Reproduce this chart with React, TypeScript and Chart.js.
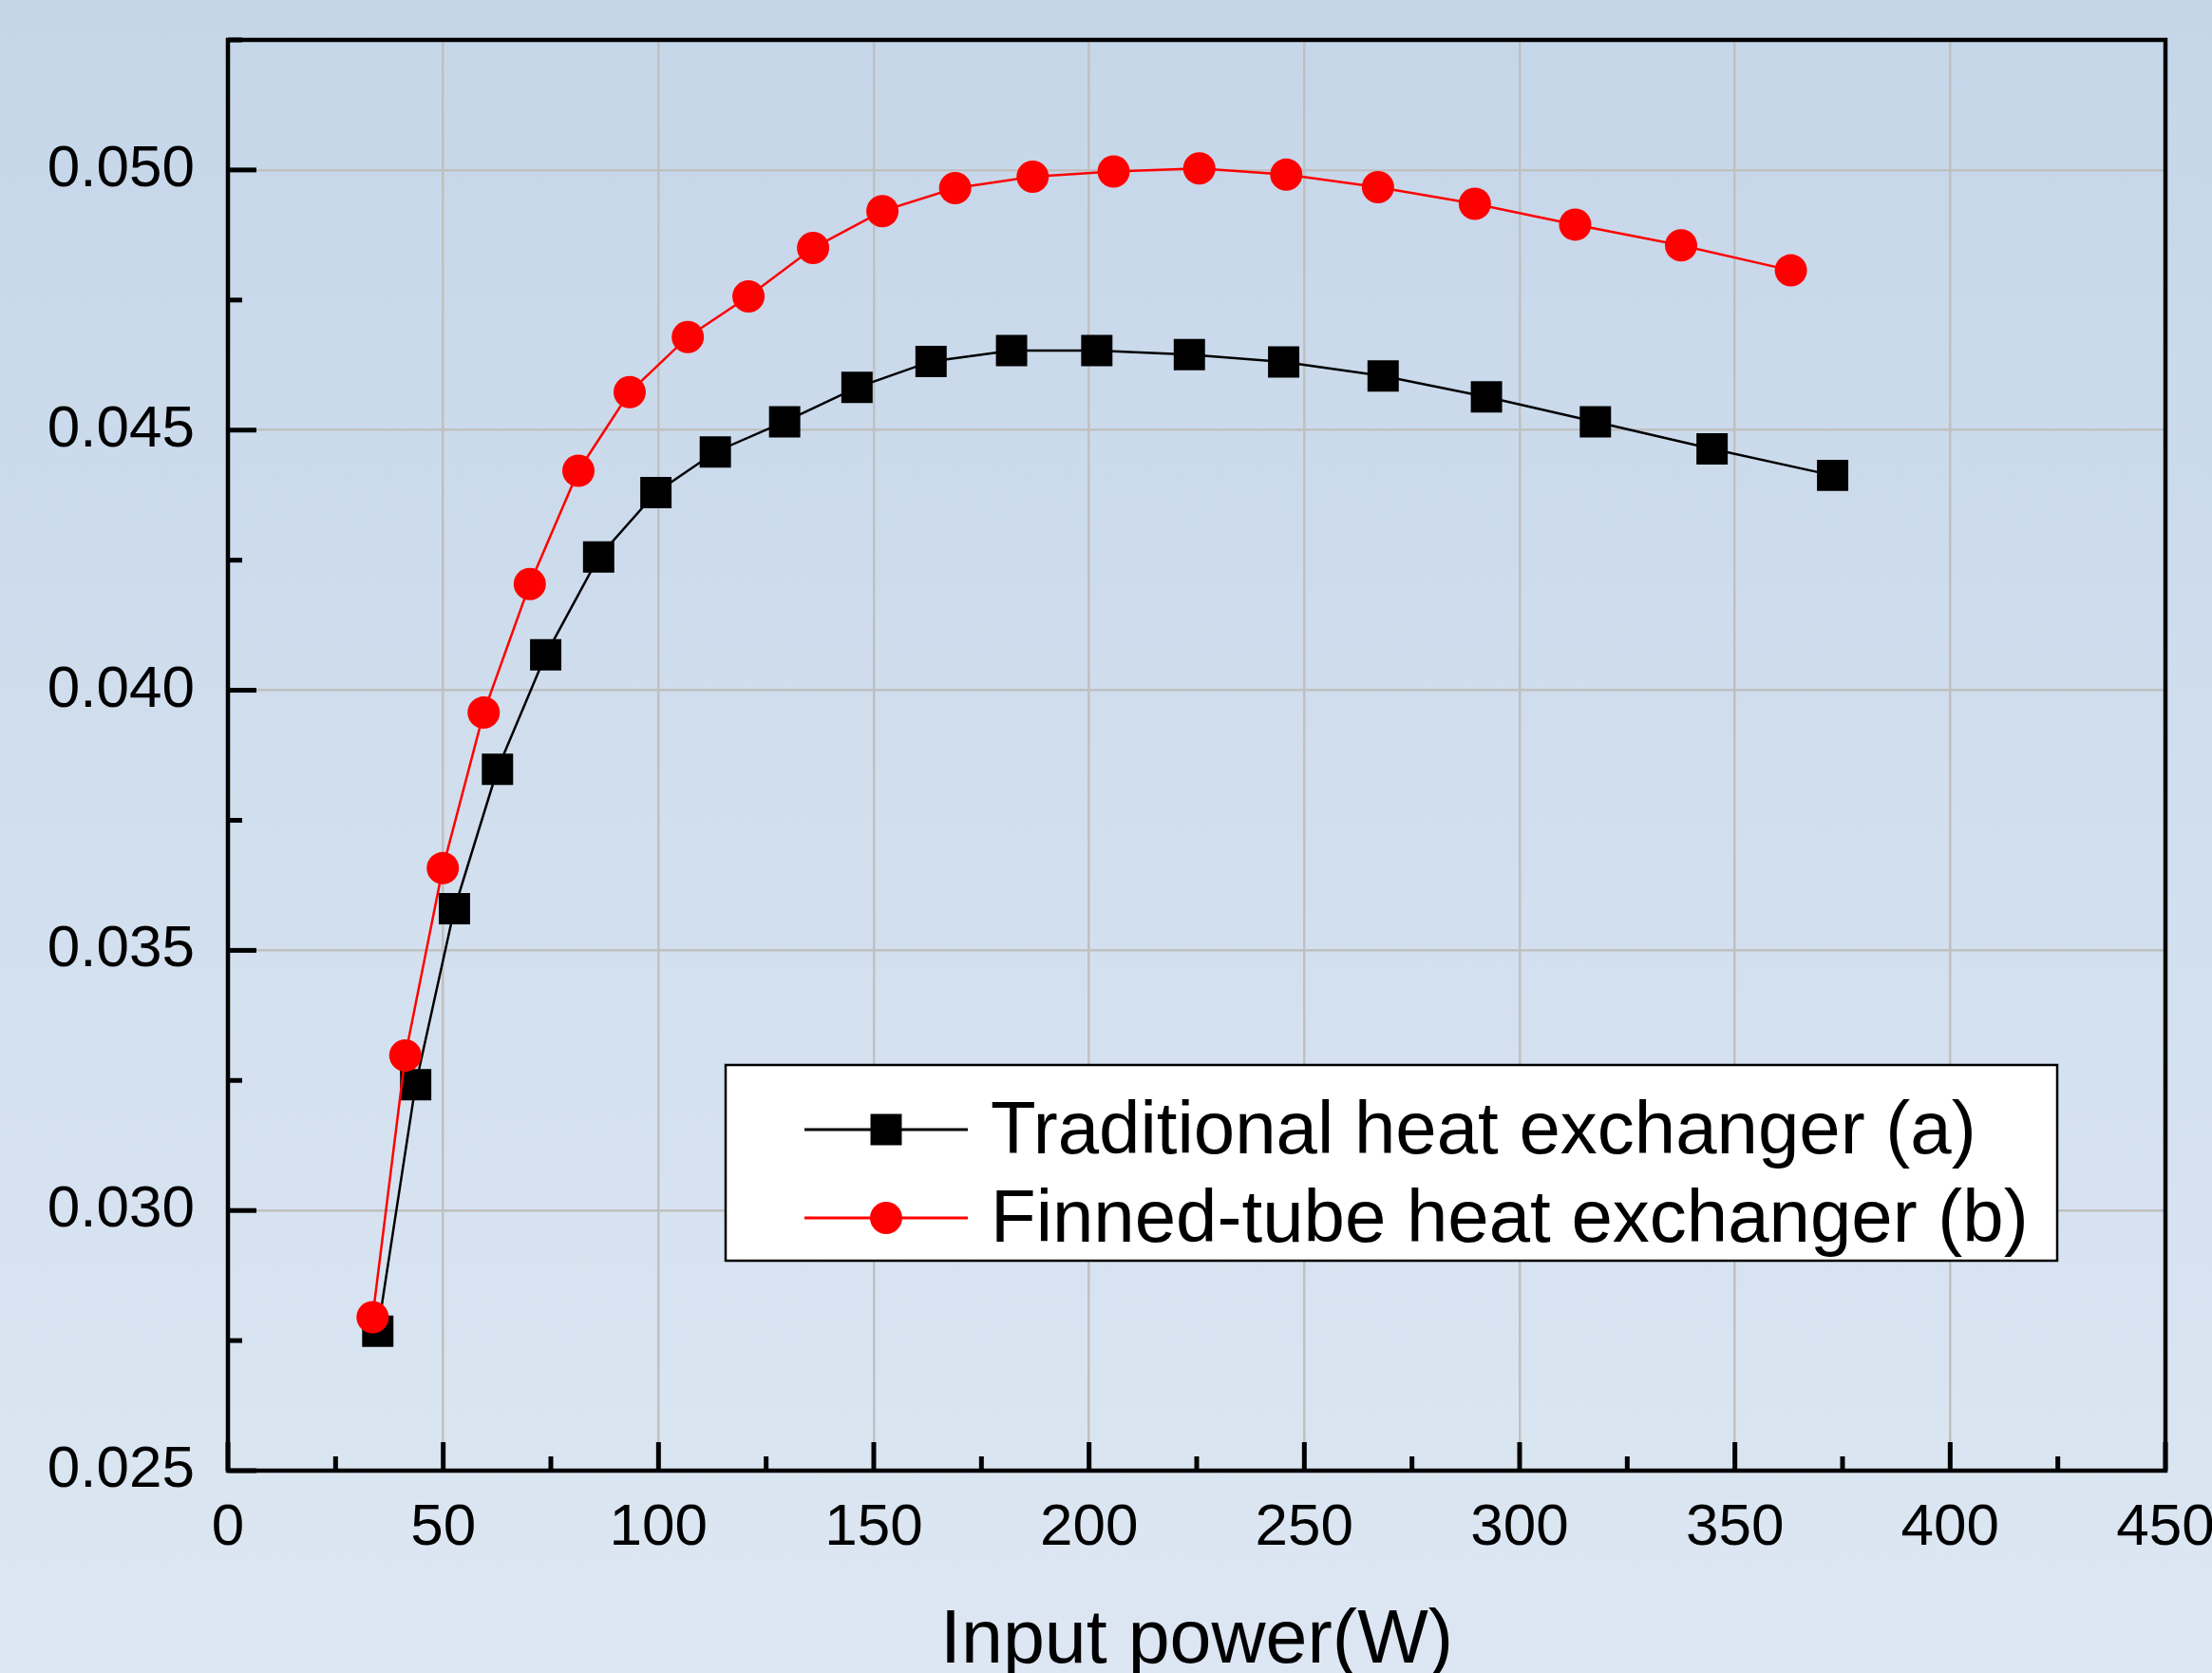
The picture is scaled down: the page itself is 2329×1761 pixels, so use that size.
import React, { useEffect, useRef } from "react";
import { Chart, registerables } from "chart.js";

Chart.register(...registerables);

// ---- data ----
const seriesNames = ["Traditional heat exchanger (a)", "Finned-tube heat exchanger (b)"];

const traditionalX = [34.8, 43.6, 52.6, 62.6, 73.8, 86.1, 99.4, 113.2, 129.3, 146.1, 163.3, 182.0, 201.8, 223.3, 245.2, 268.3, 292.3, 317.6, 344.7, 372.7];
const traditionalY = [0.02768, 0.03242, 0.0358, 0.03848, 0.04068, 0.04256, 0.0438, 0.04458, 0.04516, 0.04582, 0.04632, 0.04653, 0.04653, 0.04645, 0.04631, 0.04604, 0.04564, 0.04516, 0.04464, 0.04413];

const finnedX = [33.6, 41.2, 49.9, 59.4, 70.1, 81.4, 93.3, 106.8, 120.9, 135.9, 152.0, 168.9, 186.9, 205.7, 225.6, 245.8, 267.1, 289.6, 312.9, 337.5, 363.0];
const finnedY = [0.02795, 0.03298, 0.03658, 0.03957, 0.04204, 0.04422, 0.04573, 0.04679, 0.04757, 0.0485, 0.04921, 0.04965, 0.04987, 0.04997, 0.05003, 0.04991, 0.04967, 0.04935, 0.04895, 0.04855, 0.04807];

const xAxisTitle = "Input power(W)";
const xRange = [0, 450];
const xMajorStep = 50;
const xMinorStep = 25;
const yRange = [0.025, 0.0525];
const yMajorStep = 0.005;
const yMinorStep = 0.0025;

const FONT = '"Liberation Sans", Arial, Helvetica, sans-serif';
const colors = ["#000000", "#FF0000"];
const pointStyles = ["rect", "circle"];
const pointRadii = [23.3, 17];

const W = 2329;
const H = 1761;

const backgroundPlugin = {
  id: "bgGradient",
  beforeDraw(chart: any) {
    const { ctx, width, height } = chart;
    ctx.save();
    const g = ctx.createLinearGradient(0, 0, 0, height);
    g.addColorStop(0, "#C5D6E9");
    g.addColorStop(1, "#DDE7F3");
    ctx.fillStyle = g;
    ctx.fillRect(0, 0, width, height);
    ctx.restore();
  },
};

const frameTicksPlugin = {
  id: "frameTicks",
  afterDraw(chart: any) {
    const { ctx, chartArea } = chart;
    const xs = chart.scales.x;
    const ys = chart.scales.y;
    const { left, right, top, bottom } = chartArea;
    ctx.save();
    ctx.strokeStyle = "#000";
    ctx.lineCap = "butt";
    // ticks (inward)
    ctx.lineWidth = 5;
    const nx = Math.round((xRange[1] - xRange[0]) / xMinorStep);
    for (let i = 0; i <= nx; i++) {
      const v = xRange[0] + i * xMinorStep;
      const major = Math.abs(v / xMajorStep - Math.round(v / xMajorStep)) < 1e-9;
      const len = major ? 30 : 15;
      const px = xs.getPixelForValue(v);
      ctx.beginPath();
      ctx.moveTo(px, bottom);
      ctx.lineTo(px, bottom - len);
      ctx.stroke();
    }
    const ny = Math.round((yRange[1] - yRange[0]) / yMinorStep);
    for (let i = 0; i <= ny; i++) {
      const v = yRange[0] + i * yMinorStep;
      const major = i % Math.round(yMajorStep / yMinorStep) === 0;
      const len = major ? 30 : 15;
      const py = ys.getPixelForValue(v);
      ctx.beginPath();
      ctx.moveTo(left, py);
      ctx.lineTo(left + len, py);
      ctx.stroke();
    }
    // frame
    ctx.lineWidth = 4.5;
    ctx.strokeRect(left, top, right - left, bottom - top);

    // legend box
    const lx = left + 524;
    const ly = top + 1079;
    const lw = 1402;
    const lh = 206;
    ctx.fillStyle = "#FFFFFF";
    ctx.fillRect(lx, ly, lw, lh);
    ctx.lineWidth = 2.5;
    ctx.strokeRect(lx, ly, lw, lh);
    const rows = [ly + 68, ly + 161];
    chart.data.datasets.forEach((ds: any, i: number) => {
      const ry = rows[i];
      ctx.strokeStyle = ds.borderColor;
      ctx.lineWidth = 3;
      ctx.beginPath();
      ctx.moveTo(lx + 83, ry);
      ctx.lineTo(lx + 255, ry);
      ctx.stroke();
      ctx.fillStyle = ds.pointBackgroundColor;
      const mx = lx + 169;
      if (ds.pointStyle === "rect") {
        const s = ds.pointRadius * Math.SQRT1_2;
        ctx.fillRect(mx - s, ry - s, 2 * s, 2 * s);
      } else {
        ctx.beginPath();
        ctx.arc(mx, ry, ds.pointRadius, 0, Math.PI * 2);
        ctx.fill();
      }
      ctx.fillStyle = "#000";
      ctx.font = `78px ${FONT}`;
      ctx.textAlign = "left";
      ctx.textBaseline = "middle";
      ctx.fillText(ds.label, lx + 279, ry + 3);
    });
    ctx.restore();
  },
};

export default function App() {
  const canvasRef = useRef<HTMLCanvasElement | null>(null);

  useEffect(() => {
    document.body.style.margin = "0";
    document.body.style.overflow = "hidden";
    const canvas = canvasRef.current;
    if (!canvas) return;

    const toPoints = (xs: number[], ys: number[]) => xs.map((x, i) => ({ x, y: ys[i] }));
    const series = [
      { xs: traditionalX, ys: traditionalY },
      { xs: finnedX, ys: finnedY },
    ];

    const chart = new Chart(canvas, {
      type: "line",
      data: {
        datasets: series.map((s, i) => ({
          label: seriesNames[i],
          data: toPoints(s.xs, s.ys),
          borderColor: colors[i],
          backgroundColor: colors[i],
          pointBackgroundColor: colors[i],
          pointBorderColor: colors[i],
          pointBorderWidth: 0,
          pointStyle: pointStyles[i],
          pointRadius: pointRadii[i],
          pointHoverRadius: pointRadii[i],
          borderWidth: 2.5,
          tension: 0,
          fill: false,
          order: 2 - i,
        })),
      },
      options: {
        animation: false,
        responsive: false,
        devicePixelRatio: 1,
        events: [],
        layout: { padding: { top: 42, right: 49, left: 0, bottom: 0 }, autoPadding: false },
        plugins: {
          legend: { display: false },
          tooltip: { enabled: false },
        },
        scales: {
          x: {
            type: "linear",
            min: xRange[0],
            max: xRange[1],
            afterFit: (s: any) => {
              s.height = 213;
              s.paddingLeft = 0;
              s.paddingRight = 0;
            },
            ticks: {
              stepSize: xMajorStep,
              padding: 24,
              color: "#000",
              maxRotation: 0,
              autoSkip: false,
              font: { family: FONT, size: 62 },
              callback: (v: any) => String(v),
            },
            grid: { color: "#C0C0C0", lineWidth: 2.5, drawTicks: false },
            border: { display: false },
            title: {
              display: true,
              text: xAxisTitle,
              color: "#000",
              font: { family: FONT, size: 79, lineHeight: 1 },
              padding: { top: 0, bottom: -7 },
            },
          },
          y: {
            type: "linear",
            min: yRange[0],
            max: yRange[1],
            afterFit: (s: any) => {
              s.width = 240;
              s.paddingTop = 0;
              s.paddingBottom = 0;
            },
            ticks: {
              stepSize: yMajorStep,
              includeBounds: false,
              padding: 35,
              color: "#000",
              font: { family: FONT, size: 62 },
              callback: (v: any) => Number(v).toFixed(3),
            },
            grid: { color: "#C0C0C0", lineWidth: 2.5, drawTicks: false },
            border: { display: false },
          },
        },
      },
      plugins: [backgroundPlugin, frameTicksPlugin],
    } as any);

    return () => chart.destroy();
  }, []);

  return (
    <div style={{ width: W, height: H, overflow: "hidden" }}>
      <canvas ref={canvasRef} width={W} height={H} style={{ display: "block", width: W, height: H }} />
    </div>
  );
}
